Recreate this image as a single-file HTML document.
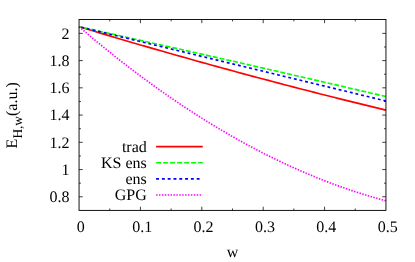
<!DOCTYPE html>
<html><head><meta charset="utf-8"><title>plot</title>
<style>
html,body{margin:0;padding:0;background:#fff;}
body{width:415px;height:262px;overflow:hidden;}
svg{display:block;will-change:transform;}
text{font-family:"Liberation Serif",serif;font-size:16.0px;fill:#000;text-rendering:geometricPrecision;}
</style></head><body>
<svg width="415" height="262" viewBox="0 0 415 262">
<rect x="0" y="0" width="415" height="262" fill="#fff"/>

<g fill="none" stroke-width="1.65" stroke-linecap="butt" stroke-linejoin="round">
<path d="M79.05,26.70 L84.16,28.25 L89.28,29.79 L94.39,31.33 L99.51,32.86 L104.62,34.38 L109.74,35.90 L114.85,37.42 L119.97,38.93 L125.08,40.43 L130.20,41.93 L135.31,43.43 L140.43,44.92 L145.54,46.40 L150.66,47.88 L155.77,49.35 L160.89,50.82 L166.00,52.28 L171.12,53.74 L176.23,55.19 L181.35,56.64 L186.46,58.08 L191.58,59.51 L196.69,60.94 L201.81,62.37 L206.92,63.79 L212.04,65.20 L217.15,66.61 L222.27,68.02 L227.38,69.41 L232.50,70.81 L237.61,72.20 L242.73,73.58 L247.84,74.96 L252.96,76.33 L258.07,77.69 L263.19,79.06 L268.30,80.41 L273.42,81.76 L278.53,83.11 L283.65,84.45 L288.76,85.78 L293.88,87.11 L298.99,88.44 L304.11,89.76 L309.22,91.07 L314.34,92.38 L319.45,93.68 L324.57,94.98 L329.68,96.27 L334.80,97.56 L339.91,98.84 L345.03,100.12 L350.14,101.39 L355.26,102.66 L360.38,103.92 L365.49,105.17 L370.60,106.42 L375.72,107.67 L380.83,108.91 L385.95,110.14" stroke="#ff0000"/>
<path d="M79.05,26.70 L84.16,27.83 L89.28,28.96 L94.39,30.10 L99.51,31.23 L104.62,32.37 L109.74,33.51 L114.85,34.65 L119.97,35.78 L125.08,36.93 L130.20,38.07 L135.31,39.21 L140.43,40.35 L145.54,41.50 L150.66,42.65 L155.77,43.79 L160.89,44.94 L166.00,46.09 L171.12,47.24 L176.23,48.39 L181.35,49.55 L186.46,50.70 L191.58,51.85 L196.69,53.01 L201.81,54.17 L206.92,55.33 L212.04,56.49 L217.15,57.65 L222.27,58.81 L227.38,59.97 L232.50,61.13 L237.61,62.30 L242.73,63.47 L247.84,64.63 L252.96,65.80 L258.07,66.97 L263.19,68.14 L268.30,69.31 L273.42,70.49 L278.53,71.66 L283.65,72.83 L288.76,74.01 L293.88,75.19 L298.99,76.37 L304.11,77.55 L309.22,78.73 L314.34,79.91 L319.45,81.09 L324.57,82.27 L329.68,83.46 L334.80,84.65 L339.91,85.83 L345.03,87.02 L350.14,88.21 L355.26,89.40 L360.38,90.59 L365.49,91.79 L370.60,92.98 L375.72,94.17 L380.83,95.37 L385.95,96.57" stroke="#00ff00" stroke-dasharray="4.95 1.977" stroke-dashoffset="1.42"/>
<path d="M79.05,26.70 L84.16,27.94 L89.28,29.18 L94.39,30.41 L99.51,31.65 L104.62,32.89 L109.74,34.13 L114.85,35.36 L119.97,36.60 L125.08,37.84 L130.20,39.08 L135.31,40.32 L140.43,41.55 L145.54,42.79 L150.66,44.03 L155.77,45.27 L160.89,46.51 L166.00,47.74 L171.12,48.98 L176.23,50.22 L181.35,51.46 L186.46,52.69 L191.58,53.93 L196.69,55.17 L201.81,56.41 L206.92,57.65 L212.04,58.88 L217.15,60.12 L222.27,61.36 L227.38,62.60 L232.50,63.83 L237.61,65.07 L242.73,66.31 L247.84,67.55 L252.96,68.79 L258.07,70.02 L263.19,71.26 L268.30,72.50 L273.42,73.74 L278.53,74.98 L283.65,76.21 L288.76,77.45 L293.88,78.69 L298.99,79.93 L304.11,81.16 L309.22,82.40 L314.34,83.64 L319.45,84.88 L324.57,86.12 L329.68,87.35 L334.80,88.59 L339.91,89.83 L345.03,91.07 L350.14,92.30 L355.26,93.54 L360.38,94.78 L365.49,96.02 L370.60,97.26 L375.72,98.49 L380.83,99.73 L385.95,100.97" stroke="#0000ff" stroke-dasharray="2.88 2.877" stroke-dashoffset="3.48"/>
<path d="M79.05,26.70 L81.61,28.89 L84.16,31.07 L86.72,33.24 L89.28,35.40 L91.84,37.54 L94.39,39.68 L96.95,41.80 L99.51,43.90 L102.07,46.00 L104.62,48.08 L107.18,50.15 L109.74,52.21 L112.30,54.26 L114.85,56.30 L117.41,58.32 L119.97,60.33 L122.53,62.33 L125.08,64.32 L127.64,66.29 L130.20,68.25 L132.76,70.20 L135.31,72.14 L137.87,74.06 L140.43,75.98 L142.99,77.88 L145.54,79.76 L148.10,81.64 L150.66,83.50 L153.22,85.35 L155.77,87.19 L158.33,89.02 L160.89,90.83 L163.45,92.64 L166.00,94.42 L168.56,96.20 L171.12,97.97 L173.68,99.72 L176.23,101.46 L178.79,103.18 L181.35,104.90 L183.91,106.60 L186.46,108.29 L189.02,109.97 L191.58,111.63 L194.14,113.28 L196.69,114.92 L199.25,116.55 L201.81,118.17 L204.37,119.77 L206.92,121.36 L209.48,122.93 L212.04,124.50 L214.60,126.05 L217.15,127.59 L219.71,129.12 L222.27,130.63 L224.83,132.13 L227.38,133.62 L229.94,135.10 L232.50,136.56 L235.06,138.01 L237.61,139.45 L240.17,140.87 L242.73,142.29 L245.29,143.69 L247.84,145.07 L250.40,146.45 L252.96,147.81 L255.52,149.16 L258.07,150.49 L260.63,151.82 L263.19,153.13 L265.75,154.42 L268.30,155.71 L270.86,156.98 L273.42,158.24 L275.98,159.49 L278.53,160.72 L281.09,161.94 L283.65,163.15 L286.21,164.34 L288.76,165.52 L291.32,166.69 L293.88,167.85 L296.44,168.99 L298.99,170.12 L301.55,171.24 L304.11,172.34 L306.67,173.44 L309.22,174.51 L311.78,175.58 L314.34,176.63 L316.90,177.67 L319.45,178.70 L322.01,179.71 L324.57,180.71 L327.13,181.70 L329.68,182.67 L332.24,183.63 L334.80,184.58 L337.36,185.51 L339.91,186.44 L342.47,187.34 L345.03,188.24 L347.59,189.12 L350.14,189.99 L352.70,190.85 L355.26,191.69 L357.82,192.52 L360.38,193.34 L362.93,194.14 L365.49,194.93 L368.05,195.71 L370.60,196.47 L373.16,197.22 L375.72,197.96 L378.28,198.68 L380.83,199.39 L383.39,200.09 L385.95,200.77" stroke="#ff00ff" stroke-dasharray="1.44 1.44"/>
<path d="M156.1,146.55 H202.75" stroke="#ff0000"/>
<path d="M156.1,162.7 H202.75" stroke="#00ff00" stroke-dasharray="5.0 2.0"/>
<path d="M156.1,178.8 H202.35" stroke="#0000ff" stroke-dasharray="2.9 2.9"/>
<path d="M156.1,195.0 H202.35" stroke="#ff00ff" stroke-dasharray="1.45 1.45"/>
</g>
<g fill="none" stroke="#000" stroke-width="0.92">
<rect x="79.05" y="19.5" width="306.90" height="190.90"/>
<path d="M109.74,210.4 v-1.9 M109.74,19.5 v1.9 M140.43,210.4 v-3.7 M140.43,19.5 v3.7 M171.12,210.4 v-1.9 M171.12,19.5 v1.9 M201.81,210.4 v-3.7 M201.81,19.5 v3.7 M232.50,210.4 v-1.9 M232.50,19.5 v1.9 M263.19,210.4 v-3.7 M263.19,19.5 v3.7 M293.88,210.4 v-1.9 M293.88,19.5 v1.9 M324.57,210.4 v-3.7 M324.57,19.5 v3.7 M355.26,210.4 v-1.9 M355.26,19.5 v1.9 M79.05,196.78 h3.7 M385.95,196.78 h-3.7 M79.05,183.16 h1.9 M385.95,183.16 h-1.9 M79.05,169.55 h3.7 M385.95,169.55 h-3.7 M79.05,155.93 h1.9 M385.95,155.93 h-1.9 M79.05,142.31 h3.7 M385.95,142.31 h-3.7 M79.05,128.69 h1.9 M385.95,128.69 h-1.9 M79.05,115.08 h3.7 M385.95,115.08 h-3.7 M79.05,101.46 h1.9 M385.95,101.46 h-1.9 M79.05,87.84 h3.7 M385.95,87.84 h-3.7 M79.05,74.22 h1.9 M385.95,74.22 h-1.9 M79.05,60.60 h3.7 M385.95,60.60 h-3.7 M79.05,46.99 h1.9 M385.95,46.99 h-1.9 M79.05,33.37 h3.7 M385.95,33.37 h-3.7" stroke-width="0.75"/>
</g>
<g>
<text x="69.6" y="202.18" text-anchor="end">0.8</text>
<text x="69.6" y="174.95" text-anchor="end">1</text>
<text x="69.6" y="147.71" text-anchor="end">1.2</text>
<text x="69.6" y="120.47" text-anchor="end">1.4</text>
<text x="69.6" y="93.24" text-anchor="end">1.6</text>
<text x="69.6" y="66.00" text-anchor="end">1.8</text>
<text x="69.6" y="38.77" text-anchor="end">2</text>
<text x="80.80" y="232.2" text-anchor="middle">0</text>
<text x="142.18" y="232.2" text-anchor="middle">0.1</text>
<text x="203.56" y="232.2" text-anchor="middle">0.2</text>
<text x="264.94" y="232.2" text-anchor="middle">0.3</text>
<text x="326.32" y="232.2" text-anchor="middle">0.4</text>
<text x="387.70" y="232.2" text-anchor="middle">0.5</text>
<text x="232.5" y="256.7" text-anchor="middle">w</text>
<text x="146.8" y="151.75" text-anchor="end">trad</text>
<text x="146.8" y="167.90" text-anchor="end">KS ens</text>
<text x="146.8" y="184.00" text-anchor="end">ens</text>
<text x="146.8" y="200.20" text-anchor="end">GPG</text>
<text transform="translate(17.0,148.4) rotate(-90)" x="0" y="0" font-size="16.7">E<tspan dy="5.01" font-size="13.36">H,w</tspan><tspan dy="-5.01">(a.u.)</tspan></text>
</g>
</svg></body></html>
